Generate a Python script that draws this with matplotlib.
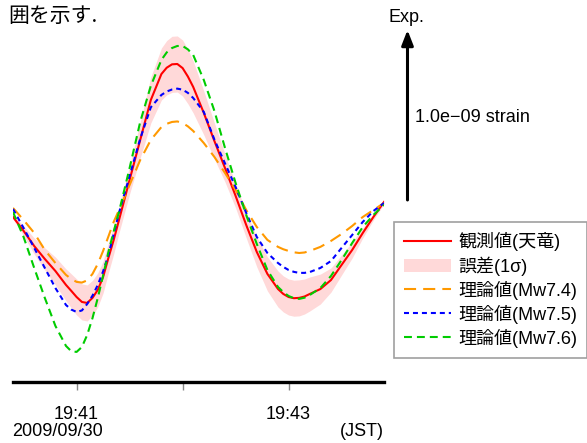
import matplotlib
matplotlib.use("Agg")
import matplotlib.pyplot as plt
import numpy as np

plt.rcParams['font.family'] = ['Liberation Sans', 'Noto Sans CJK JP', 'DejaVu Sans']

# 時刻: 19:40:00 からの秒数
t = [24, 30, 36, 42, 48, 54, 57, 60, 63, 66, 69, 72, 75, 78, 81, 84, 90, 96, 102,
     108, 111, 114, 117, 120, 123, 126, 132, 138, 144, 150, 156, 162, 168, 174,
     177, 180, 183, 186, 189, 192, 198, 204, 210, 216, 222, 228, 234]

# ひずみ (単位 1e-11 strain, 伸び=正)
obs = [-10.0, -18.2, -27.1, -34.7, -41.8, -50.0, -53.5, -57.1, -60.0, -60.6, -57.6,
       -52.9, -45.3, -34.1, -23.5, -11.8, 11.8, 35.3, 58.8, 74.1, 77.8, 79.8, 80.0,
       77.6, 72.6, 66.5, 51.2, 34.7, 18.8, 2.4, -14.7, -30.6, -43.5, -52.4, -55.3,
       -57.1, -57.8, -57.6, -56.8, -55.3, -52.4, -47.1, -38.2, -29.4, -19.4,
       -10.0, -1.2]
err = [1.2, 2.9, 4.7, 6.5, 8.2, 9.4, 10.0, 10.6, 10.6, 10.6, 10.3, 10.0, 9.4, 8.8,
       8.2, 7.6, 8.2, 10.6, 13.5, 15.3, 16.0, 16.5, 16.5, 16.5, 16.0, 15.3, 12.9,
       10.6, 8.2, 7.1, 7.6, 8.8, 10.0, 10.6, 10.6, 10.6, 10.6, 10.6, 10.3, 10.0,
       8.8, 7.1, 5.9, 4.7, 2.9, 1.8, 1.2]
mw74 = [-4.7, -11.8, -19.4, -29.4, -37.1, -44.1, -46.5, -48.2, -48.6, -47.3, -43.5,
        -37.6, -30.0, -21.5, -12.9, -5.9, 8.8, 23.5, 35.3, 42.9, 44.8, 45.9, 46.2,
        45.3, 43.3, 40.6, 33.5, 25.3, 15.9, 5.9, -5.9, -15.9, -23.5, -27.6, -29.0,
        -30.0, -30.8, -31.2, -30.9, -30.0, -27.6, -24.1, -20.0, -15.3, -10.0,
        -5.9, -1.8]
mw75 = [-5.3, -16.5, -28.2, -40.0, -51.8, -61.8, -64.5, -65.9, -65.0, -61.2, -56.3,
        -50.0, -42.0, -32.4, -20.0, -7.6, 14.1, 36.0, 54.5, 61.8, 63.8, 65.0, 65.5,
        64.9, 63.0, 60.0, 51.8, 35.5, 21.5, 7.6, -7.6, -21.8, -31.2, -37.1, -39.4,
        -41.2, -42.3, -42.9, -42.9, -42.4, -40.0, -35.9, -28.2, -20.6, -12.9,
        -6.5, -1.8]
mw76 = [-7.1, -21.8, -40.0, -57.6, -74.1, -85.9, -89.0, -89.4, -86.5, -79.4, -69.5,
        -57.6, -44.5, -30.6, -18.5, -7.0, 18.8, 45.9, 67.1, 82.4, 86.8, 89.4, 90.6,
        90.6, 88.6, 85.3, 70.6, 52.4, 30.6, 10.0, -8.8, -25.9, -41.2, -51.2, -54.2,
        -56.5, -57.8, -58.2, -57.5, -55.9, -51.8, -44.7, -35.3, -25.3, -15.9,
        -8.8, -2.9]

tick_pos = [60, 120, 180]
tick_lab = ['19:41', '', '19:43']

t = np.array(t)
obs = np.array(obs)
err = np.array(err)

fig = plt.figure(figsize=(5.87, 4.43), dpi=100)
ax = fig.add_axes([13 / 587, 1 - 382 / 443, (384 - 13) / 587, (382 - 30) / 443])

ax.fill_between(t, obs - err, obs + err, color='#FFD9D9', lw=0, label='誤差(1σ)')
ax.plot(t, obs, color='#FF0000', lw=1.5, label='観測値(天竜)')
ax.plot(t, mw74, color='#FF9900', lw=1.5, dashes=(5.8, 3.4), label='理論値(Mw7.4)')
ax.plot(t, mw75, color='#0000FF', lw=1.5, dashes=(2.4, 1.9), label='理論値(Mw7.5)')
ax.plot(t, mw76, color='#00CC00', lw=1.5, dashes=(3.8, 2.4), label='理論値(Mw7.6)')

ax.set_xlim(24, 234)
ax.set_ylim(-107.1, 100)

for s in ['top', 'right', 'left']:
    ax.spines[s].set_visible(False)
ax.spines['bottom'].set_linewidth(2.4)
ax.set_yticks([])
ax.set_xticks(tick_pos)
ax.set_xticklabels(tick_lab, fontsize=13)
ax.tick_params(axis='x', length=6, width=1, color='#888888', pad=11)

# 伸び方向の矢印 (長さ = 1.0e-09 strain)
ax.annotate('', xy=(247.3, 100), xytext=(247.3, 0),
            arrowprops=dict(arrowstyle='-|>,head_length=0.9,head_width=0.35',
                            lw=2.2, color='black', shrinkA=0, shrinkB=0),
            annotation_clip=False)
fig.text(406 / 587, 1 - 17 / 443, 'Exp.', ha='center', va='center', fontsize=13)
fig.text(415 / 587, 1 - 117 / 443, '1.0e\u221209 strain', ha='left', va='center', fontsize=13)

fig.text(12 / 587, 1 - 431 / 443, '2009/09/30', ha='left', va='center', fontsize=13)
fig.text(384 / 587, 1 - 431 / 443, '(JST)', ha='right', va='center', fontsize=13)
fig.text(8 / 587, 1 - 16 / 443, '囲を示す.', ha='left', va='center', fontsize=15,
         family=['Noto Sans CJK JP'])

handles, labels = ax.get_legend_handles_labels()
order = [1, 0, 2, 3, 4]
leg = fig.legend([handles[i] for i in order], [labels[i] for i in order],
                 loc='upper left', bbox_to_anchor=(394 / 587, 1 - 222 / 443),
                 fontsize=13, frameon=True, fancybox=False, handlelength=2.6,
                 handletextpad=0.4, labelspacing=0.28, borderpad=0.55,
                 borderaxespad=0)
leg.get_frame().set_edgecolor('#888888')
leg.get_frame().set_linewidth(1.2)

fig.savefig('out.png', dpi=100)
